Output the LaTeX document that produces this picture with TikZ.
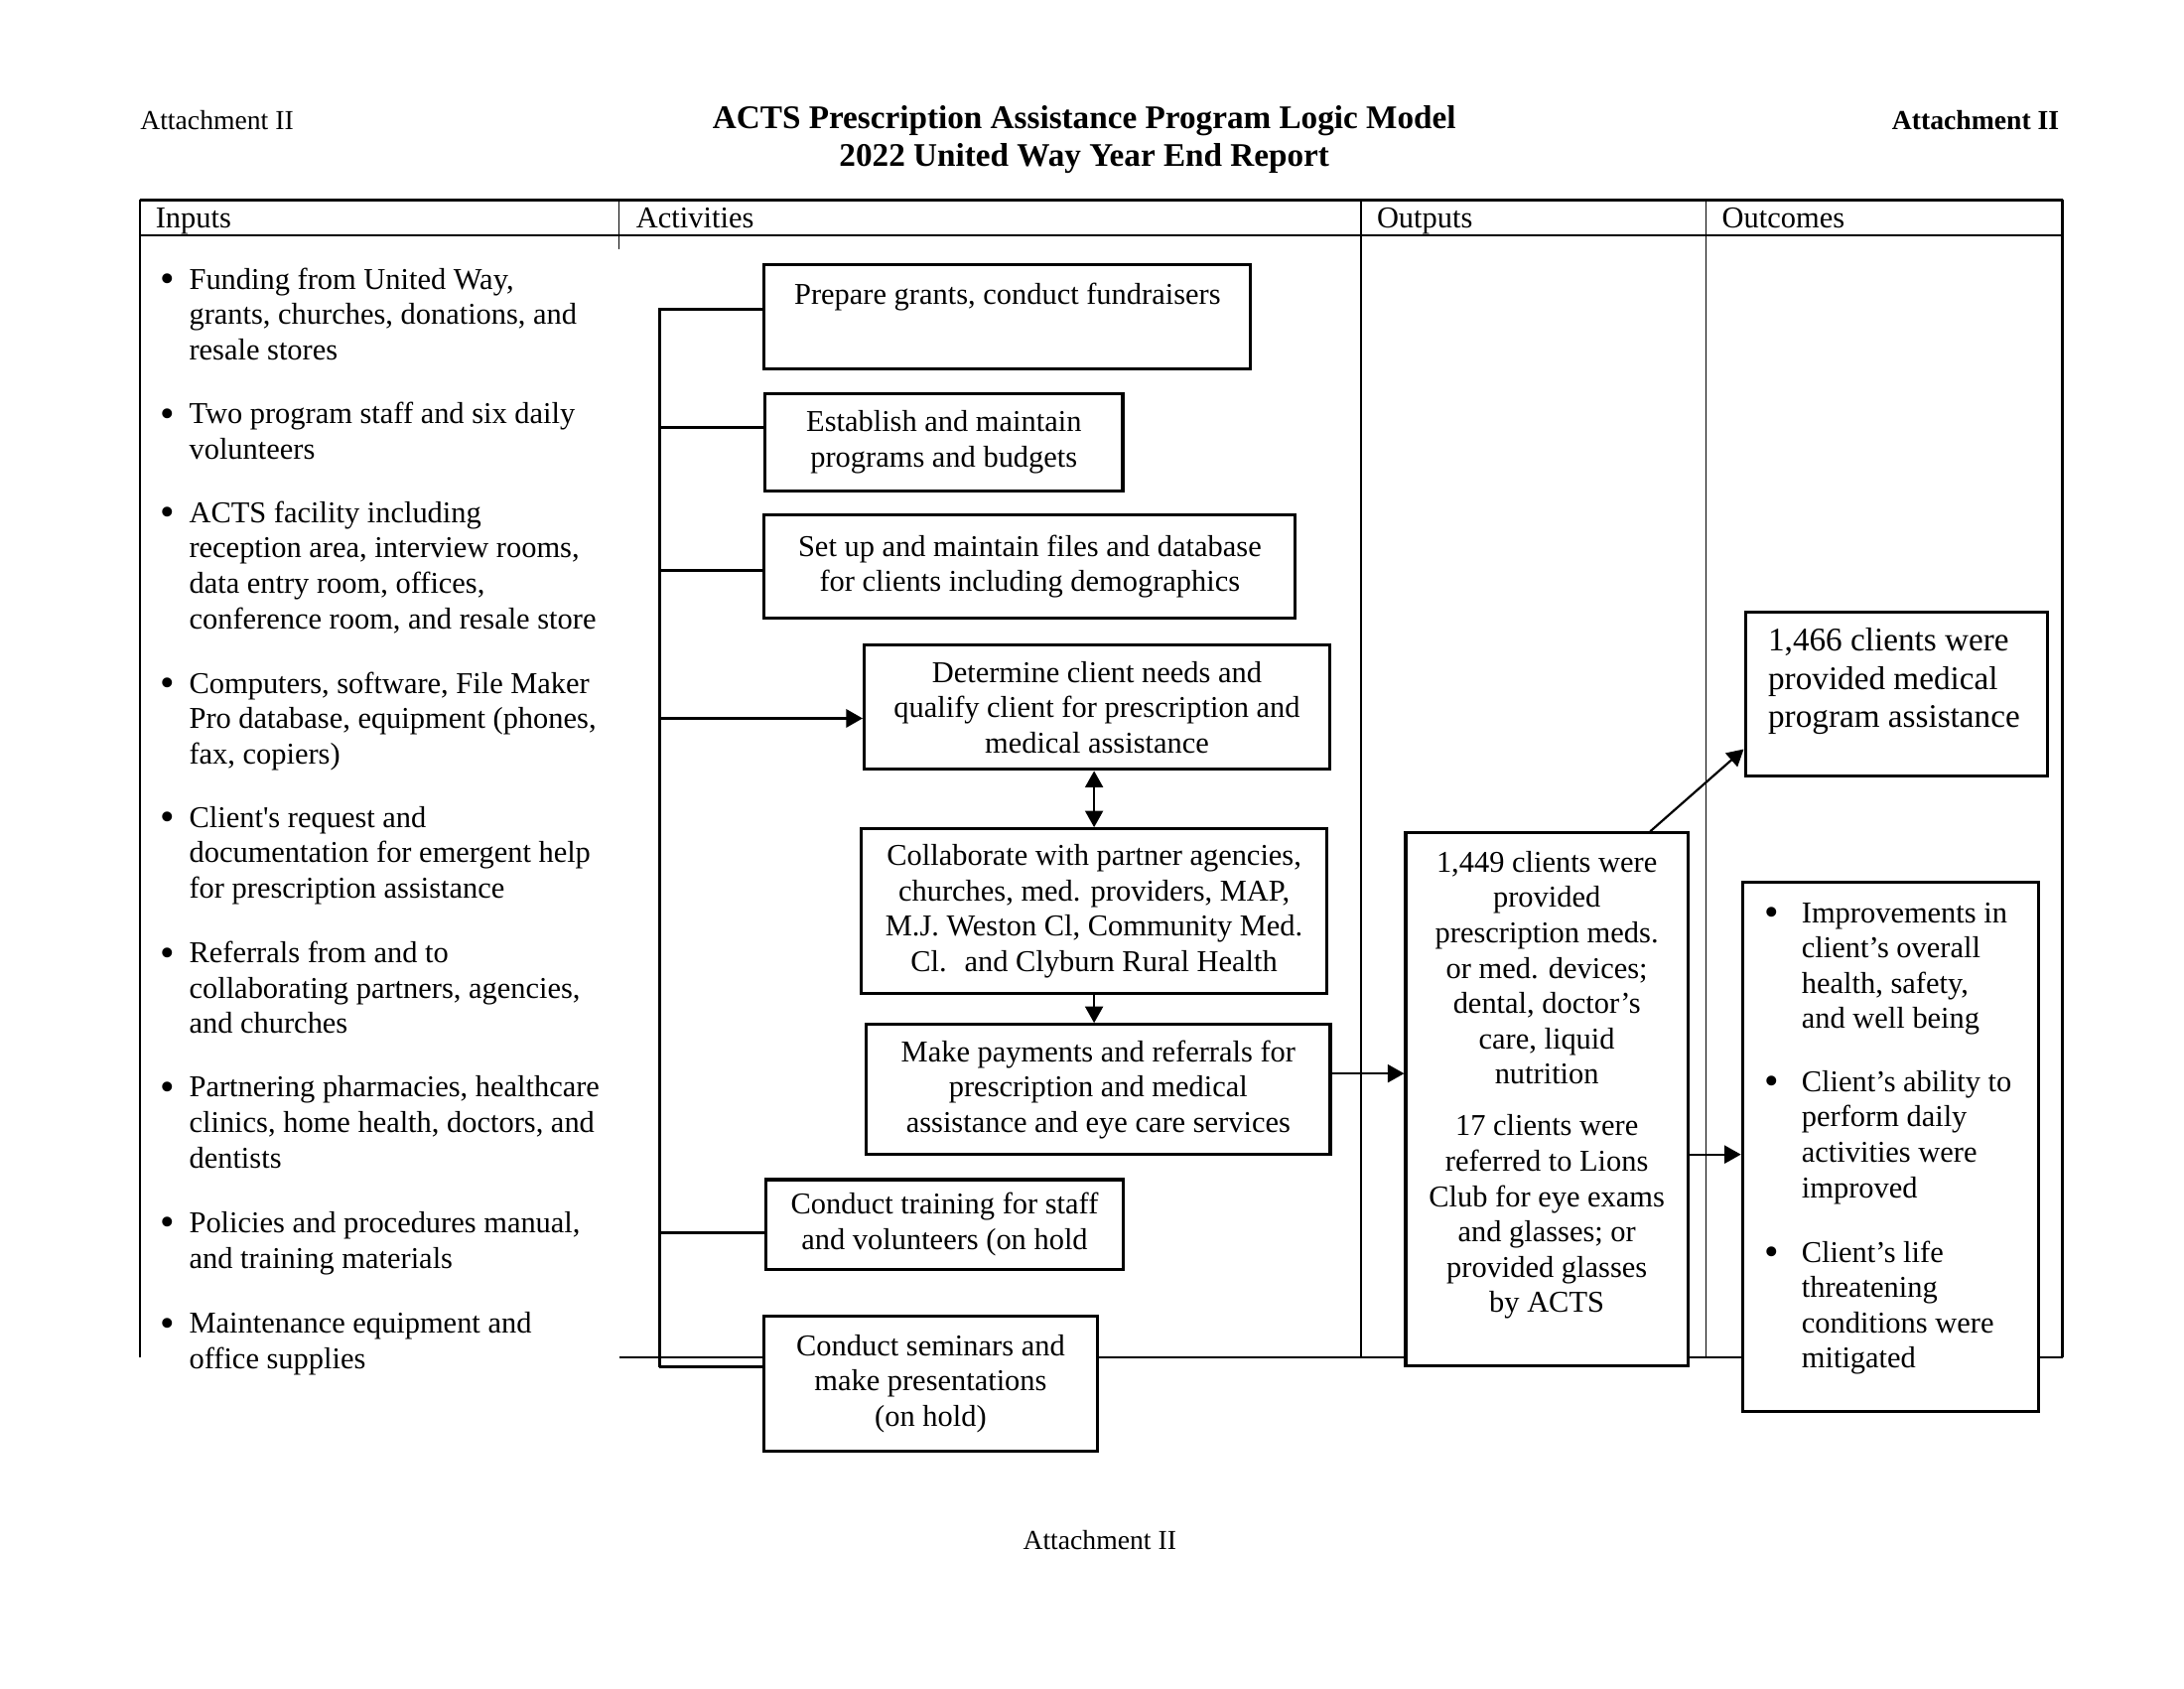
\documentclass[tikz,border=0pt]{standalone}
\usepackage{fontspec}
\setmainfont{Liberation Serif}
\usetikzlibrary{arrows.meta}

\newcommand{\uu}{0.5086pt}
\newcommand{\fsmain}{\fontsize{11}{12.85}\selectfont}
\newcommand{\fsbig}{\fontsize{12}{13.8}\selectfont}
\newcommand{\fssmall}{\fontsize{10}{12}\selectfont}

\begin{document}
\begin{tikzpicture}[
	x=0.5086pt, y=-0.5086pt,
	actbox/.style={
		rectangle,
		draw=black,
		line width=1.1pt,
		fill=white,
		align=center,
		inner sep=0pt,
		font=\fsmain
	},
	item/.style={
		anchor=base west,
		align=left,
		inner sep=0pt,
		font=\fsmain
	},
	dot/.style={
		anchor=base,
		inner sep=0pt,
		font=\fontsize{15}{15}\selectfont
	},
	hdr/.style={
		anchor=base west,
		inner sep=0pt,
		font=\fsmain
	},
	tbl/.style={line width=0.9pt},
	col/.style={line width=0.5pt},
	link/.style={line width=1.1pt},
	arr/.style={line width=0.8pt, -{Triangle[length=6pt,width=6.5pt]}},
]
\useasboundingbox (0,0) rectangle (1563,1208);

% page heading (multi-line nodes sit on their last baseline)
\node[anchor=base west, inner sep=0pt, font=\fssmall] (attl) at (100,92.5) {Attachment II};
\node[anchor=base, align=center, inner sep=0pt, font=\fsbig\bfseries] (title) at (776,119) {ACTS Prescription Assistance Program Logic Model\\2022 United Way Year End Report};
\node[anchor=base east, inner sep=0pt, font=\fssmall\bfseries] (attr) at (1474,92.5) {Attachment II};
\node[anchor=base, inner sep=0pt, font=\fssmall] (attb) at (787,1108.5) {Attachment II};

% table
\draw[tbl] (100,143) -- (1476,143);
\draw[tbl] (100,168.5) -- (1476,168.5);
\draw[tbl] (100,143) -- (100,971);
\draw[tbl] (1476,143) -- (1476,971);
\draw[col] (443,143) -- (443,178);
\draw[col] (974,143) -- (974,971);
\draw[col] (1221,143) -- (1221,971);
\draw[tbl] (443,971) -- (1476,971);

\node[hdr] (hin) at (111,163) {Inputs};
\node[hdr] (hact) at (455,163) {Activities};
\node[hdr] (hout) at (985,163) {Outputs};
\node[hdr] (hoc) at (1232,163) {Outcomes};

% inputs
\foreach \y [count=\i] in {209.5,305.5,376.5,498.5,594.5,691.5,787.5,884.5,956.5}
	\node[dot] (inb\i) at (120,\y) {\textbullet};

\node[item] (in1) at (135,257.5) {Funding from United Way,\\grants, churches, donations, and\\resale stores};
\node[item] (in2) at (135,328.3) {Two program staff and six daily\\volunteers};
\node[item] (in3) at (135,449.8) {ACTS facility including\\reception area, interview rooms,\\data entry room, offices,\\conference room, and resale store};
\node[item] (in4) at (135,546.5) {Computers, software, File Maker\\Pro database, equipment (phones,\\fax, copiers)};
\node[item] (in5) at (135,642.5) {Client\textquotesingle s request and\\documentation for emergent help\\for prescription assistance};
\node[item] (in6) at (135,739.5) {Referrals from and to\\collaborating partners, agencies,\\and churches};
\node[item] (in7) at (135,835.5) {Partnering pharmacies, healthcare\\clinics, home health, doctors, and\\dentists};
\node[item] (in8) at (135,907.3) {Policies and procedures manual,\\and training materials};
\node[item] (in9) at (135,979.3) {Maintenance equipment and\\office supplies};

% activities
\coordinate (bk1) at (472,221);
\coordinate (bk2) at (472,306);
\coordinate (bk3) at (472,408);
\coordinate (bk4) at (472,514);
\coordinate (bk7) at (472,882);
\coordinate (bk8) at (472,978);

\node[actbox, minimum width=348*\uu, minimum height=75*\uu] (a1) at (721,226.5) {Prepare grants, conduct fundraisers\\\strut};
\node[actbox, minimum width=256*\uu, minimum height=70*\uu] (a2) at (675.5,316.5) {Establish and maintain\\programs and budgets};
\node[actbox, minimum width=380*\uu, minimum height=74*\uu] (a3) at (737,405.5) {Set up and maintain files and database\\for clients including demographics};
\node[actbox, minimum width=333*\uu, minimum height=89*\uu] (a4) at (785,506) {Determine client needs and\\qualify client for prescription and\\medical assistance};
\node[actbox, minimum width=333*\uu, minimum height=118*\uu] (a5) at (783,652) {Collaborate with partner agencies,\\churches, med. providers, MAP,\\M.J. Weston Cl, Community Med.\\Cl.~ and Clyburn Rural Health};
\node[actbox, minimum width=332*\uu, minimum height=93*\uu] (a6) at (786,779.5) {Make payments and referrals for\\prescription and medical\\assistance and eye care services};
\node[actbox, minimum width=256*\uu, minimum height=64*\uu] (a7) at (676,876) {Conduct training for staff\\and volunteers (on hold};

\draw[link] (bk1 -| a1.west) -- (bk1) -- (bk8);
\draw[link] (bk2) -- (bk2 -| a2.west);
\draw[link] (bk3) -- (bk3 -| a3.west);
\draw[link, -{Triangle[length=6pt,width=6.5pt]}] (bk4) -- (bk4 -| a4.west);
\draw[link] (bk7) -- (bk7 -| a7.west);

\node[actbox, minimum width=239*\uu, minimum height=96*\uu] (a8) at (666,990) {Conduct seminars and\\make presentations\\(on hold)};
\draw[link] (bk8) -- (bk8 -| a8.west);

\draw[line width=0.8pt, {Triangle[length=6pt,width=6.5pt]}-{Triangle[length=6pt,width=6.5pt]}] (a5.north) -- (a5.north |- a4.south);
\draw[arr] (a5.south) -- (a5.south |- a6.north);

% outputs
\node[actbox, minimum width=202*\uu, minimum height=381*\uu] (o1) at (1107,786.5) {};
\node[anchor=base, align=center, inner sep=0pt, font=\fsmain] (o1txt) at (1107,939) {1,449 clients were\\provided\\prescription meds.\\or med. devices;\\dental, doctor’s\\care, liquid\\nutrition\\[6pt]17 clients were\\referred to Lions\\Club for eye exams\\and glasses; or\\provided glasses\\by ACTS};

\draw[arr] ([yshift=5.8pt]a6.east) -- ([yshift=5.8pt]a6.east -| o1.west);

% outcomes
\node[actbox, minimum width=216*\uu, minimum height=117*\uu] (b1) at (1357,496.5) {};
\node[item, font=\fsbig] (b1txt) at (1265,520.3) {1,466 clients were\\provided medical\\program assistance};

\node[actbox, minimum width=212*\uu, minimum height=379*\uu] (b2) at (1353,820.5) {};
\foreach \y [count=\i] in {662.5,783.5,905.5}
	\node[dot] (ocb\i) at (1268,\y) {\textbullet};
\node[item] (oc1) at (1289,735.8) {Improvements in\\client’s overall\\health, safety,\\and well being};
\node[item] (oc2) at (1289,856.8) {Client’s ability to\\perform daily\\activities were\\improved};
\node[item] (oc3) at (1289,978.8) {Client’s life\\threatening\\conditions were\\mitigated};

\draw[arr] ([xshift=37.6pt]o1.north) -- ([yshift=-20.1pt]b1.west);
\draw[arr] ([yshift=-20.1pt]o1.east) -- ([yshift=-20.1pt]o1.east -| b2.west);

\end{tikzpicture}
\end{document}
